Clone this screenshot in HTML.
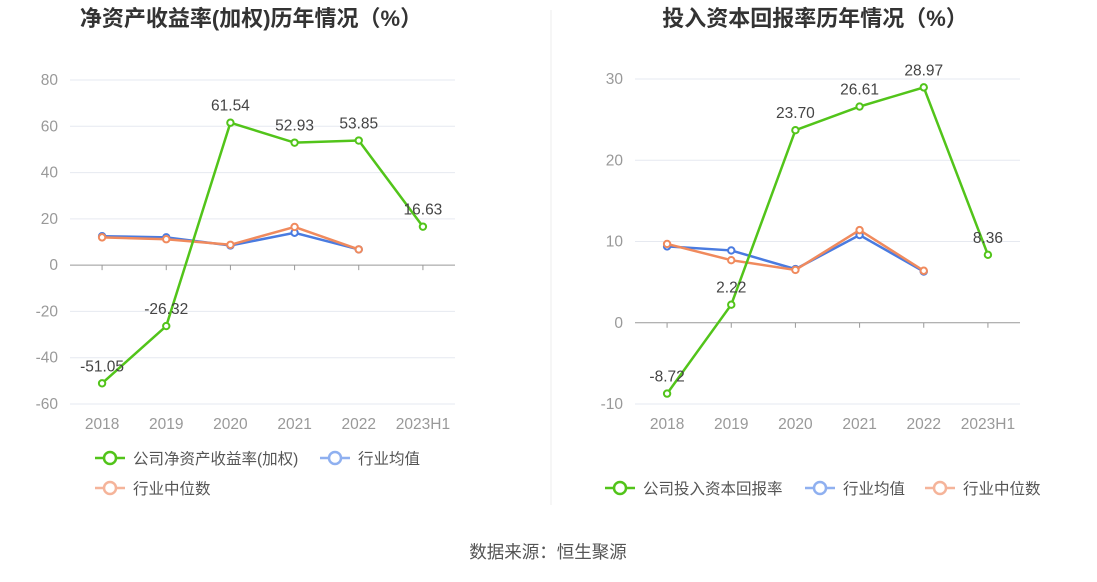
<!DOCTYPE html>
<html><head><meta charset="utf-8"><style>
body{margin:0;background:#fff;font-family:"Liberation Sans","Noto Sans CJK SC",sans-serif;}
svg text{font-family:"Liberation Sans","Noto Sans CJK SC",sans-serif;}
</style></head><body>
<svg id="s" width="1097" height="577" xmlns="http://www.w3.org/2000/svg">
<line x1="551" y1="10" x2="551" y2="505" stroke="#eee"/>
<text x="251" y="26" text-anchor="middle" font-size="22" font-weight="bold" fill="#333">净资产收益率(加权)历年情况（%）</text>
<text x="815" y="26" text-anchor="middle" font-size="22" font-weight="bold" fill="#333">投入资本回报率历年情况（%）</text>
<text x="548" y="558" text-anchor="middle" font-size="17.5" fill="#555">数据来源：恒生聚源</text>
<g id="L"></g><g id="R"></g>
<g>
<g><line x1="95" y1="458" x2="125" y2="458" stroke="#52c41a" stroke-width="2.5"/><circle cx="110" cy="458" r="6" fill="#fff" stroke="#52c41a" stroke-width="2.5"/><text x="133" y="464" font-size="15.5" fill="#555">公司净资产收益率(加权)</text></g>
<g><line x1="320" y1="458" x2="350" y2="458" stroke="#8fb0f0" stroke-width="2.5"/><circle cx="335" cy="458" r="6" fill="#fff" stroke="#8fb0f0" stroke-width="2.5"/><text x="358" y="464" font-size="15.5" fill="#555">行业均值</text></g>
<g><line x1="95" y1="488" x2="125" y2="488" stroke="#f5b49a" stroke-width="2.5"/><circle cx="110" cy="488" r="6" fill="#fff" stroke="#f5b49a" stroke-width="2.5"/><text x="133" y="494" font-size="15.5" fill="#555">行业中位数</text></g>
</g>
<g>
<g><line x1="605" y1="488" x2="635" y2="488" stroke="#52c41a" stroke-width="2.5"/><circle cx="620" cy="488" r="6" fill="#fff" stroke="#52c41a" stroke-width="2.5"/><text x="643" y="494" font-size="15.5" fill="#555">公司投入资本回报率</text></g>
<g><line x1="805" y1="488" x2="835" y2="488" stroke="#8fb0f0" stroke-width="2.5"/><circle cx="820" cy="488" r="6" fill="#fff" stroke="#8fb0f0" stroke-width="2.5"/><text x="843" y="494" font-size="15.5" fill="#555">行业均值</text></g>
<g><line x1="925" y1="488" x2="955" y2="488" stroke="#f5b49a" stroke-width="2.5"/><circle cx="940" cy="488" r="6" fill="#fff" stroke="#f5b49a" stroke-width="2.5"/><text x="963" y="494" font-size="15.5" fill="#555">行业中位数</text></g>
</g>
</svg>
<script>
const categories=["2018","2019","2020","2021","2022","2023H1"];
const roeCompany=[-51.05,-26.32,61.54,52.93,53.85,16.63];
const roeAvg=[12.5,12,8.5,14,6.8];
const roeMedian=[12,11.2,8.8,16.5,6.8];
const roeTicks=[80,60,40,20,0,-20,-40,-60];
const roicCompany=[-8.72,2.22,23.70,26.61,28.97,8.36];
const roicAvg=[9.4,8.9,6.6,10.8,6.3];
const roicMedian=[9.7,7.7,6.5,11.4,6.4];
const roicTicks=[30,20,10,0,-10];
const NS="http://www.w3.org/2000/svg";
function mk(p,t,a){const e=document.createElementNS(NS,t);for(const k in a)e.setAttribute(k,a[k]);p.appendChild(e);return e;}
function draw(gid,x0,x1,yTop,yBot,ticks,comp,avg,med,pfx){
 const g=document.getElementById(gid);
 const max=ticks[0],min=ticks[ticks.length-1];
 const y=v=>yTop+(max-v)/(max-min)*(yBot-yTop);
 const step=(x1-x0)/categories.length;
 const x=i=>x0+step*(i+0.5);
 ticks.forEach(t=>{
  const l=mk(g,"line",{x1:x0,x2:x1,y1:y(t),y2:y(t),stroke:t===0?"#999":"#e6e9f0"});
  
  
  const tx=mk(g,"text",{x:x0-12,y:y(t)+5,"text-anchor":"end","font-size":15.5,fill:"#999"});tx.textContent=t;
  
  
 });
 categories.forEach((c,i)=>{
  const tk=mk(g,"line",{x1:x(i),x2:x(i),y1:y(0),y2:y(0)+5,stroke:"#999"});
  
  
  const tx=mk(g,"text",{x:x(i),y:yBot+25,"text-anchor":"middle","font-size":15.5,fill:"#999"});tx.textContent=c;
  
  
 });
 [[avg,"#4a7be0","avg"],[med,"#f08a5d","median"],[comp,"#52c41a","company"]].forEach(([d,col,nm])=>{
  const pl=mk(g,"polyline",{points:d.map((v,i)=>x(i)+","+y(v)).join(" "),fill:"none",stroke:col,"stroke-width":2.5});
  
  
  d.forEach((v,i)=>{
   const c=mk(g,"circle",{cx:x(i),cy:y(v),r:3.2,fill:"#fff",stroke:col,"stroke-width":2});
   
   
   if(nm==="company"){
    const t=mk(g,"text",{x:x(i),y:y(v)-12,"text-anchor":"middle","font-size":15.5,fill:"#444"});t.textContent=v.toFixed(2);
    
    
   }
  });
 });
}
draw("L",70,455,80,404,roeTicks,roeCompany,roeAvg,roeMedian,"roe");
draw("R",635,1020,79,404,roicTicks,roicCompany,roicAvg,roicMedian,"roic");
</script>
</body></html>
